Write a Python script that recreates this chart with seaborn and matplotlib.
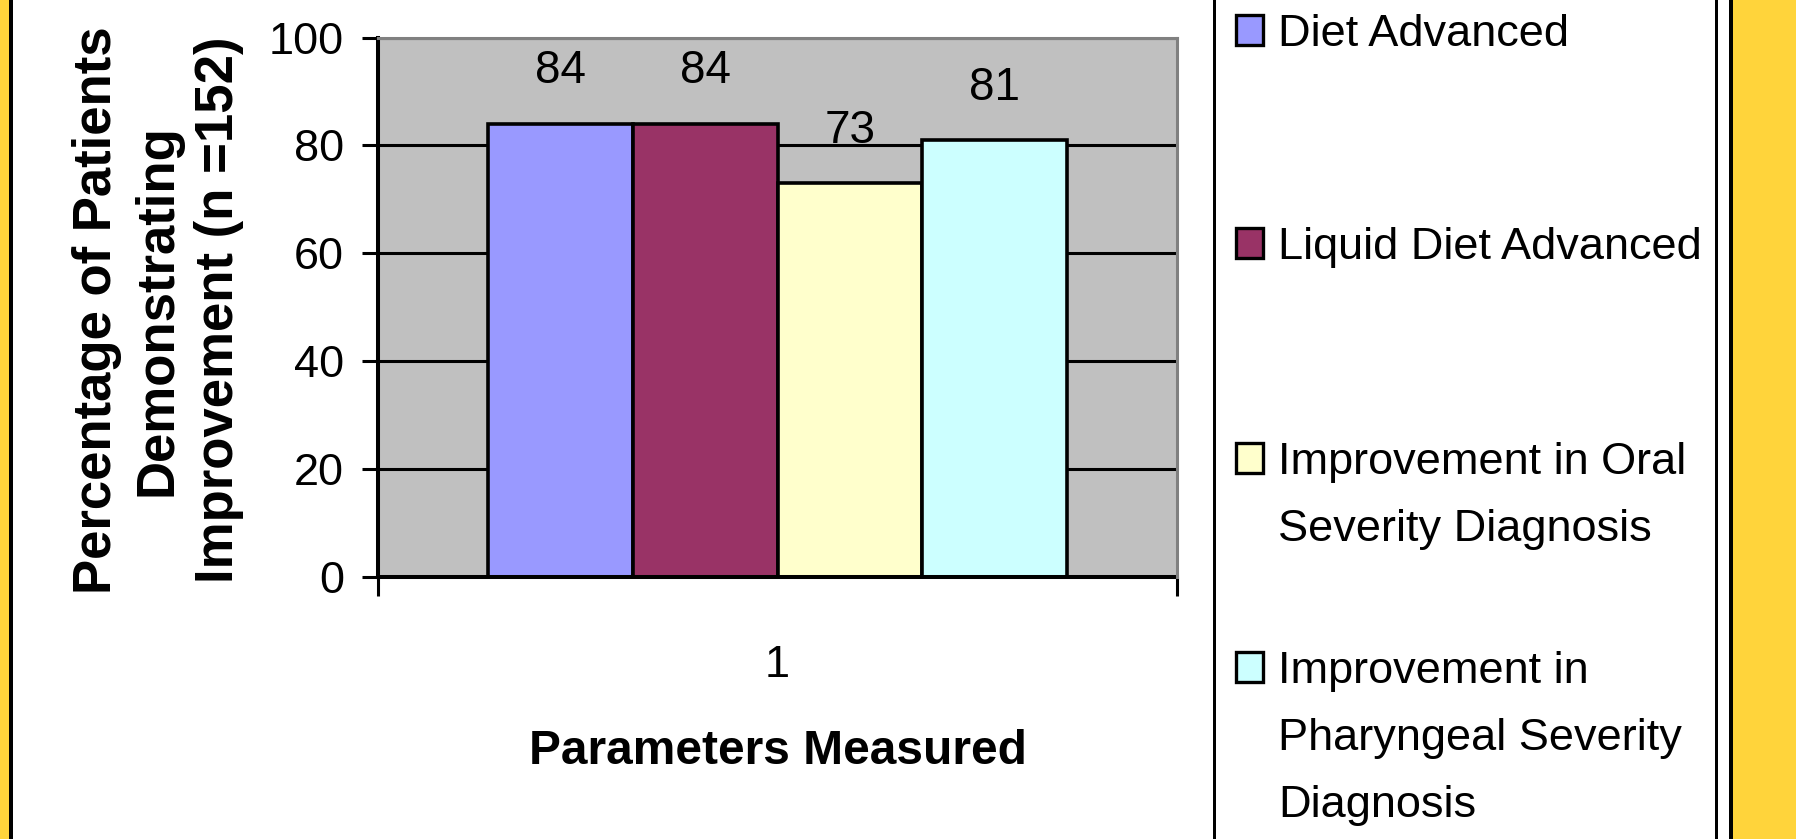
import matplotlib
matplotlib.use('Agg')
import matplotlib.pyplot as plt
import matplotlib.patches as mpatches
import seaborn as sns
import pandas as pd

# ---- data ----
categories = ['1']
series = ['Diet Advanced', 'Liquid Diet Advanced',
          'Improvement in Oral Severity Diagnosis',
          'Improvement in Pharyngeal Severity Diagnosis']
values = [84, 84, 73, 81]
colors = ['#9999FF', '#993366', '#FFFFCC', '#CCFFFF']
legend_labels = ['Diet Advanced', 'Liquid Diet Advanced',
                 'Improvement in Oral\nSeverity Diagnosis',
                 'Improvement in\nPharyngeal Severity\nDiagnosis']
y_ticks = [0, 20, 40, 60, 80, 100]
x_label = 'Parameters Measured'
y_label = 'Percentage of Patients\nDemonstrating\nImprovement (n =152)'

sns.set_theme(style='white')
plt.rcParams['font.family'] = ['Liberation Sans', 'DejaVu Sans']

W, H = 1796, 839
fig = plt.figure(figsize=(W / 100, H / 100), dpi=100, facecolor='white')


def fx(px):
    return px / W


def fy(py):
    return 1 - py / H


ax_left, ax_right, ax_top, ax_bottom = 378, 1177, 37.6, 577
ax = fig.add_axes([fx(ax_left), fy(ax_bottom), fx(ax_right) - fx(ax_left), fy(ax_top) - fy(ax_bottom)])
ax.set_facecolor('#C0C0C0')

df = pd.DataFrame({'param': categories * len(series), 'series': series, 'value': values})
sns.barplot(data=df, x='param', y='value', hue='series', hue_order=series,
            palette=colors, saturation=1, width=0.725, edgecolor='black',
            linewidth=2.6, legend=False, errorbar=None, ax=ax, zorder=2)

for c in ax.containers:
    ax.bar_label(c, fmt='%d', padding=22, fontsize=33, color='black')

ax.set_xlim(-0.5, 0.5)
ax.set_ylim(0, 100)
ax.set_yticks(y_ticks)
ax.set_axisbelow(True)
ax.grid(axis='y', color='black', linewidth=2.2)
ax.grid(axis='x', visible=False)

for s in ['left', 'bottom']:
    ax.spines[s].set_color('black')
    ax.spines[s].set_linewidth(2.9)
for s in ['top', 'right']:
    ax.spines[s].set_color('#808080')
    ax.spines[s].set_linewidth(2.2)
    ax.spines[s].set_zorder(3)

ax.tick_params(axis='y', which='major', left=True, length=11.5, width=2.2,
               color='black', direction='out', pad=13, labelsize=32.5, labelcolor='black')
ax.set_xticks([0])
ax.set_xticklabels(categories)
ax.tick_params(axis='x', which='major', bottom=True, length=0, pad=49,
               labelsize=32.5, labelcolor='black')
ax.set_xticks([-0.5, 0.5], minor=True)
ax.tick_params(axis='x', which='minor', bottom=True, length=13.7, width=2.2,
               color='black', direction='out')

ax.set_xlabel(x_label, fontsize=34.5, fontweight='bold', va='center', color='black')
ax.xaxis.set_label_coords(0.5, -(752 - ax_bottom) / (ax_bottom - ax_top))
ax.set_ylabel(y_label, fontsize=38, fontweight='bold', va='center', ha='center',
              multialignment='center', linespacing=1.27, color='black')
ax.yaxis.set_label_coords((158 - ax_left) / (ax_right - ax_left),
                          (ax_bottom - 310) / (ax_bottom - ax_top))

# ---- slide frame ----
yellow = '#FFD43B'


def vband(x0, x1, color):
    fig.add_artist(mpatches.Rectangle((fx(x0), 0), fx(x1) - fx(x0), 1,
                                      transform=fig.transFigure, color=color, lw=0))


vband(0, 9, yellow)
vband(9, 13, 'black')
vband(1213, 1216, 'black')
vband(1715, 1718, 'black')
vband(1729, 1733, 'black')
vband(1733, W, yellow)

# ---- legend ----
first_line_centers = [30, 243, 458, 667]
legend_fs = 32.5
em = legend_fs * 100 / 72
for lab, col, yc in zip(legend_labels, colors, first_line_centers):
    sq_w, sq_h = 27, 30
    fig.add_artist(mpatches.Rectangle((fx(1236), fy(yc + sq_h / 2)), fx(sq_w), sq_h / H,
                                      transform=fig.transFigure, facecolor=col,
                                      edgecolor='black', lw=2.4))
    fig.text(fx(1278), fy(yc - 0.36 * em), lab, fontsize=legend_fs, va='top',
             ha='left', linespacing=1.82, color='black')

fig.savefig('out.png', dpi=100)
